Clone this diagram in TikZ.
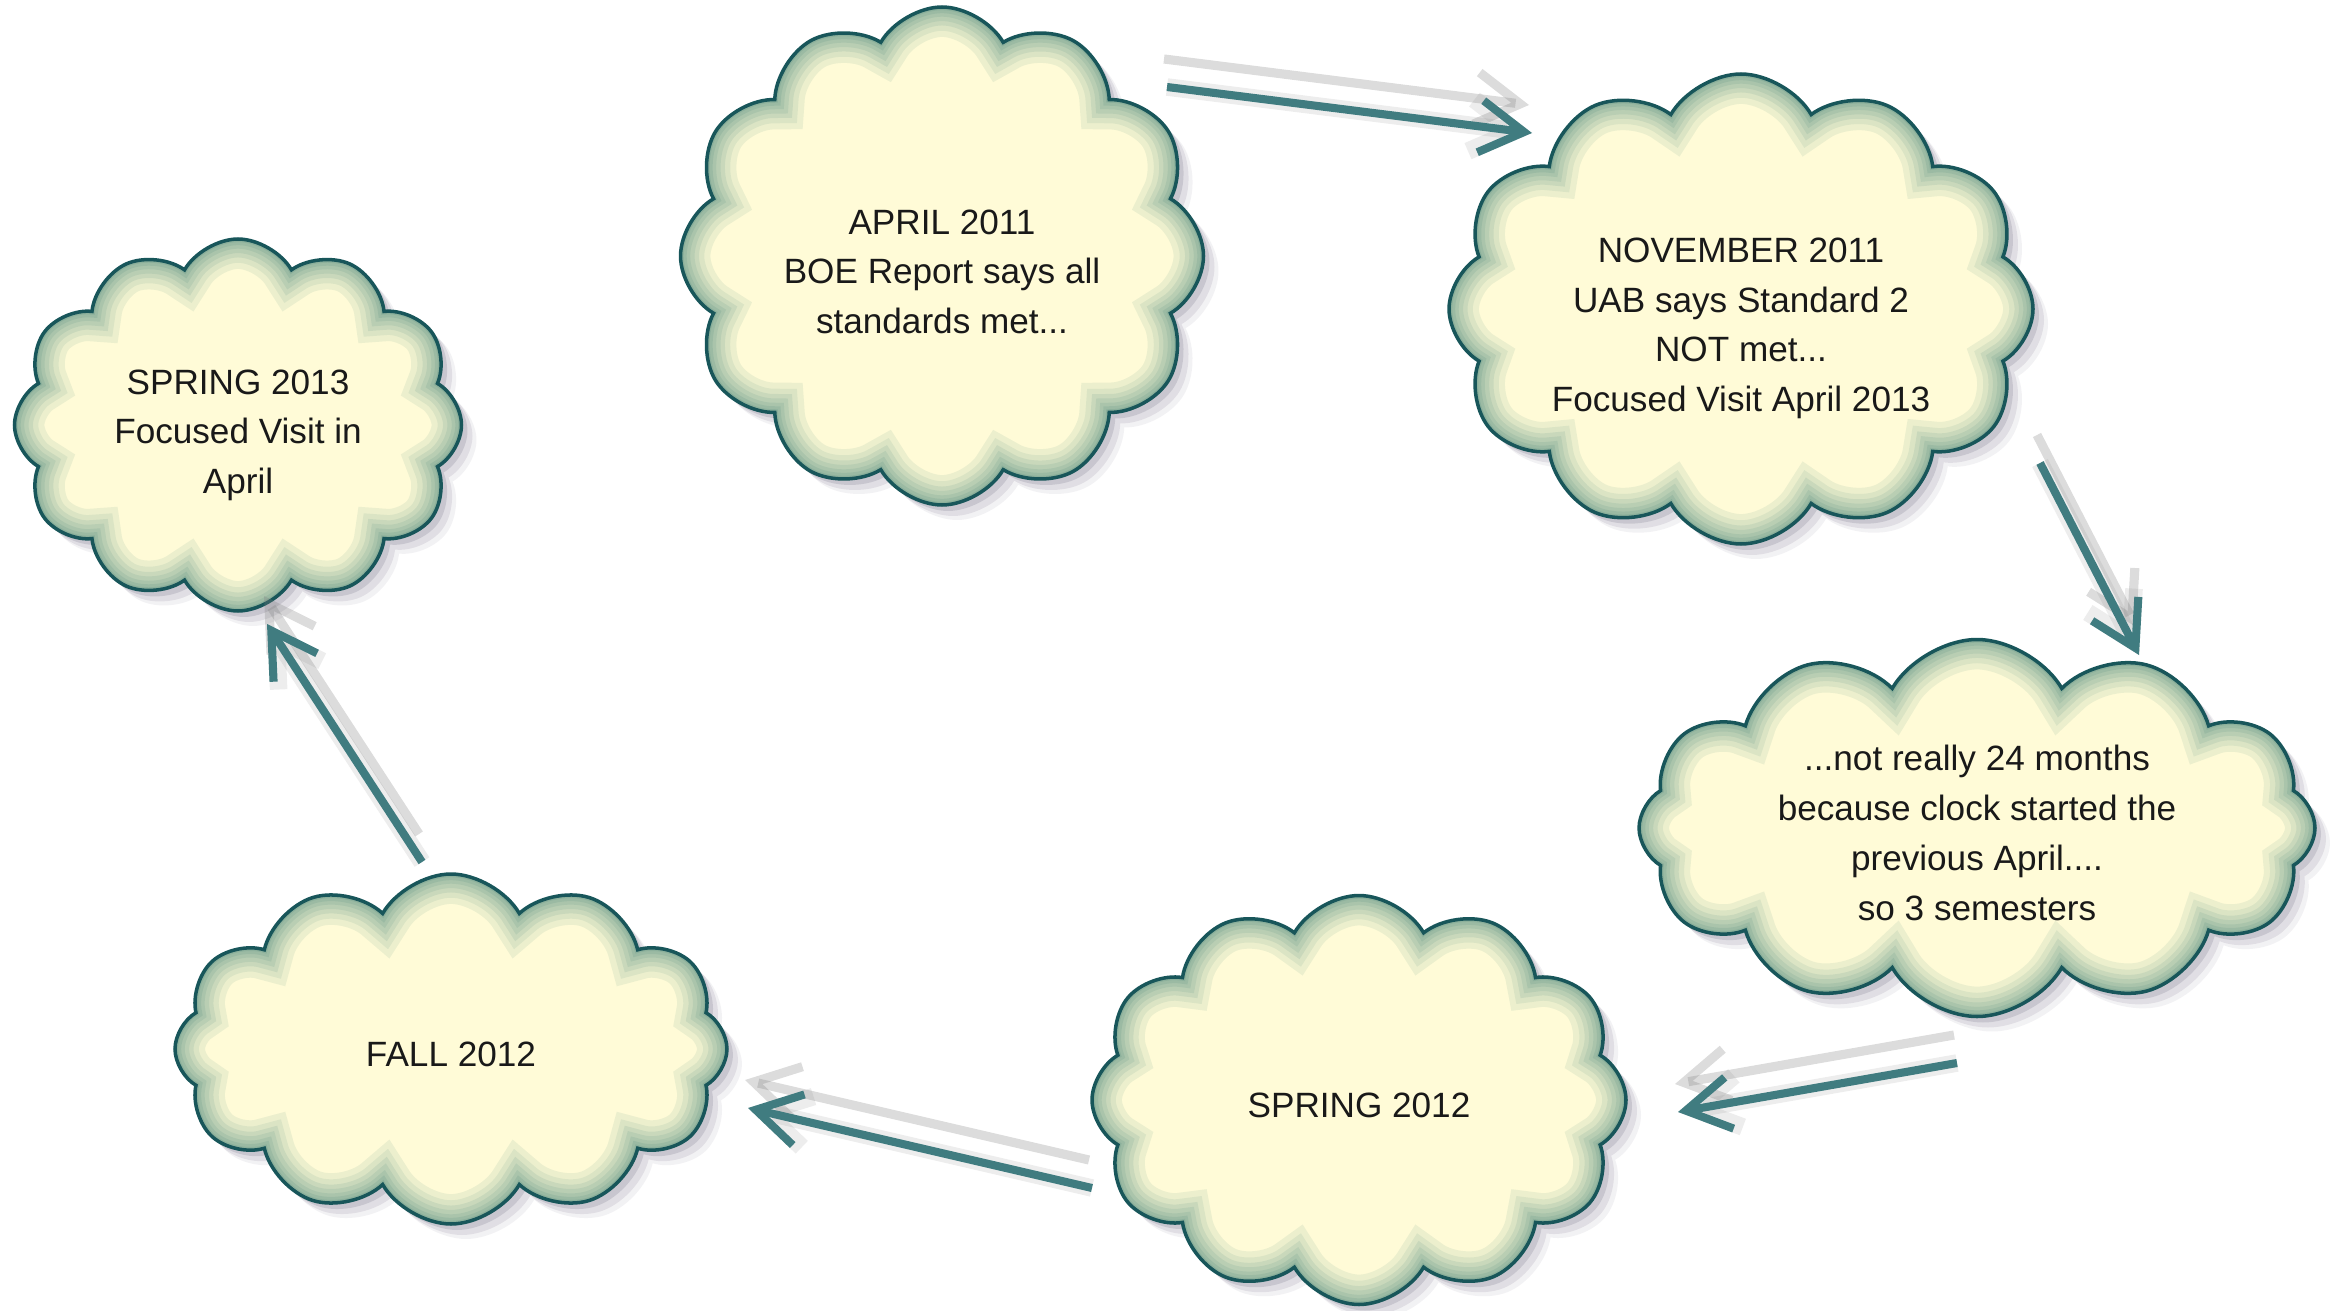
\documentclass[tikz,border=0pt]{standalone}
\usepackage{fontspec}
\setmainfont{Liberation Sans}
\usepackage{tikz}
\usetikzlibrary{shapes,shapes.symbols,shadows,calc,positioning,arrows.meta}
\definecolor{cream}{RGB}{255,251,215}
\definecolor{cloudline}{RGB}{24,86,90}
\definecolor{glowc}{RGB}{50,120,112}
\definecolor{tealarr}{RGB}{64,124,128}
\definecolor{shadowc}{RGB}{95,88,115}
\definecolor{txt}{RGB}{25,25,25}
\newcommand{\sunk}[2]{\raisebox{-#1}[\height][\depth]{\begin{tabular}{@{}c@{}}#2\end{tabular}}}
\tikzset{
  puff/.style args={#1,#2}{
  cloud,
  cloud puffs=12,
  cloud puff arc=120,
  inner sep=0pt,
  minimum width=#1 cm,
  minimum height=#2 cm,
  },
  cloudnode/.style args={#1,#2}{
  puff={#1,#2},
  inner xsep=-1.2cm,
  inner ysep=-0.8cm,
  fill=cream,
  draw=cloudline,
  line width=1pt,
  text=txt,
  font=\fontsize{10}{14.2}\selectfont,
  drop shadow={shadow xshift=1.5mm,shadow yshift=-1.5mm,fill=shadowc,opacity=.08},
  drop shadow={shadow xshift=1.1mm,shadow yshift=-1.1mm,fill=shadowc,opacity=.13},
  drop shadow={shadow xshift=.6mm,shadow yshift=-.6mm,fill=shadowc,opacity=.18},
  path picture={
    \node [puff={#1,#2},draw=glowc,opacity=.09,line width=17pt] at (path picture bounding box.center) {};
    \node [puff={#1,#2},draw=glowc,opacity=.09,line width=13.5pt] at (path picture bounding box.center) {};
    \node [puff={#1,#2},draw=glowc,opacity=.10,line width=10.5pt] at (path picture bounding box.center) {};
    \node [puff={#1,#2},draw=glowc,opacity=.10,line width=8pt] at (path picture bounding box.center) {};
    \node [puff={#1,#2},draw=glowc,opacity=.11,line width=5.5pt] at (path picture bounding box.center) {};
    \node [puff={#1,#2},draw=glowc,opacity=.12,line width=3.5pt] at (path picture bounding box.center) {};
    \node [puff={#1,#2},draw=glowc,opacity=.14,line width=1.8pt] at (path picture bounding box.center) {};
  },
  },
  flow/.style={draw=tealarr,line width=2.3pt,-{Straight Barb[length=4.4mm,width=5.2mm]}},
  flowshade/.style={draw=black!50,opacity=.28,line width=2.6pt,-{Straight Barb[length=4.4mm,width=5.2mm]},
    preaction={draw=black!50,opacity=.14,line width=5pt},
    transform canvas={shift={(-0.03,0.28)}}},
}

\begin{document}
\begin{tikzpicture}
  \useasboundingbox (0,0) rectangle (23.30,-13.11);

  \node [cloudnode={4.47,3.72}] (s13) at (2.38,-4.25) {\sunk{0.9mm}{SPRING 2013\\Focused Visit in\\April}};
  \node [cloudnode={5.23,4.98}] (a11) at (9.42,-2.56) {\sunk{1.8mm}{APRIL 2011\\BOE Report says all\\standards met...}};
  \node [cloudnode={5.84,4.70}] (n11) at (17.41,-3.09) {\sunk{1.8mm}{NOVEMBER 2011\\UAB says Standard 2\\NOT met...\\Focused Visit April 2013}};
  \node [cloudnode={6.76,3.77}] (clock) at (19.77,-8.28) {\sunk{0.75mm}{...not really 24 months\\because clock started the\\previous April....\\so 3 semesters}};
  \node [cloudnode={5.34,4.09}] (s12) at (13.59,-11.00) {\sunk{0.75mm}{SPRING 2012}};
  \node [cloudnode={5.52,3.50}] (f12) at (4.51,-10.49) {\sunk{0.75mm}{FALL 2012}};

  \draw [flowshade] ([shift={(2.25,1.69)}]a11.center) -- ([shift={(-2.09,1.76)}]n11.center);
  \draw [flow] ([shift={(2.25,1.69)}]a11.center) -- ([shift={(-2.09,1.76)}]n11.center);

  \draw [flowshade] ([shift={(2.99,-1.54)}]n11.center) -- ([shift={(1.62,1.73)}]clock.center);
  \draw [flow] ([shift={(2.99,-1.54)}]n11.center) -- ([shift={(1.62,1.73)}]clock.center);

  \draw [flowshade] ([shift={(-0.20,-2.35)}]clock.center) -- ([shift={(3.19,-0.12)}]s12.center);
  \draw [flow] ([shift={(-0.20,-2.35)}]clock.center) -- ([shift={(3.19,-0.12)}]s12.center);

  \draw [flowshade] ([shift={(-2.67,-0.88)}]s12.center) -- ([shift={(2.97,-0.59)}]f12.center);
  \draw [flow] ([shift={(-2.67,-0.88)}]s12.center) -- ([shift={(2.97,-0.59)}]f12.center);

  \draw [flowshade] ([shift={(-0.29,1.87)}]f12.center) -- ([shift={(0.29,-1.99)}]s13.center);
  \draw [flow] ([shift={(-0.29,1.87)}]f12.center) -- ([shift={(0.29,-1.99)}]s13.center);
\end{tikzpicture}
\end{document}
